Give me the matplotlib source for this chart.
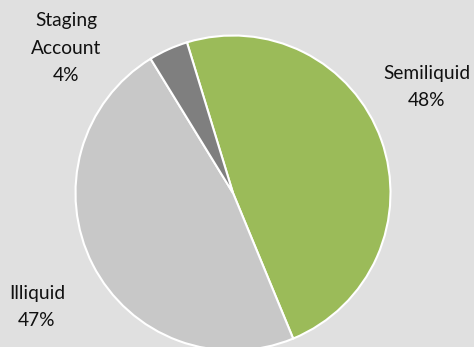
import matplotlib
matplotlib.use("Agg")
from matplotlib import pyplot as plt

labels = ["Semiliquid", "Illiquid", "Staging\nAccount"]
values = [48, 47, 4]
pcts = ["48%", "47%", "4%"]

colors = ["#9bbb59", "#c8c8c8", "#7f7f7f"]
r = 157.5
# label centres in pixels (x, y from top), converted to pie units below
label_px = [(427, 87), (37, 307), (66, 48)]
bg = "#e0e0e0"

plt.rcParams["font.family"] = ["Lato", "DejaVu Sans"]

fig = plt.figure(figsize=(4.74, 3.47), dpi=100, facecolor=bg)
ax = fig.add_axes([0, 0, 1, 1])
ax.set_facecolor(bg)

ax.pie(values, colors=colors, startangle=107, counterclock=False,
       radius=1.0, wedgeprops=dict(edgecolor="white", linewidth=1.5))

for lab, p, (px, py) in zip(labels, pcts, label_px):
    ax.text((px - 233) / r, (193 - py) / r, lab + "\n" + p, ha="center",
            va="center", fontsize=13.8, color="#111111", linespacing=1.72)

ax.set_aspect("auto")
ax.set_xlim(-233 / r, (474 - 233) / r)
ax.set_ylim((193 - 347) / r, 193 / r)
ax.axis("off")

fig.savefig("out.png", dpi=100, facecolor=bg)
